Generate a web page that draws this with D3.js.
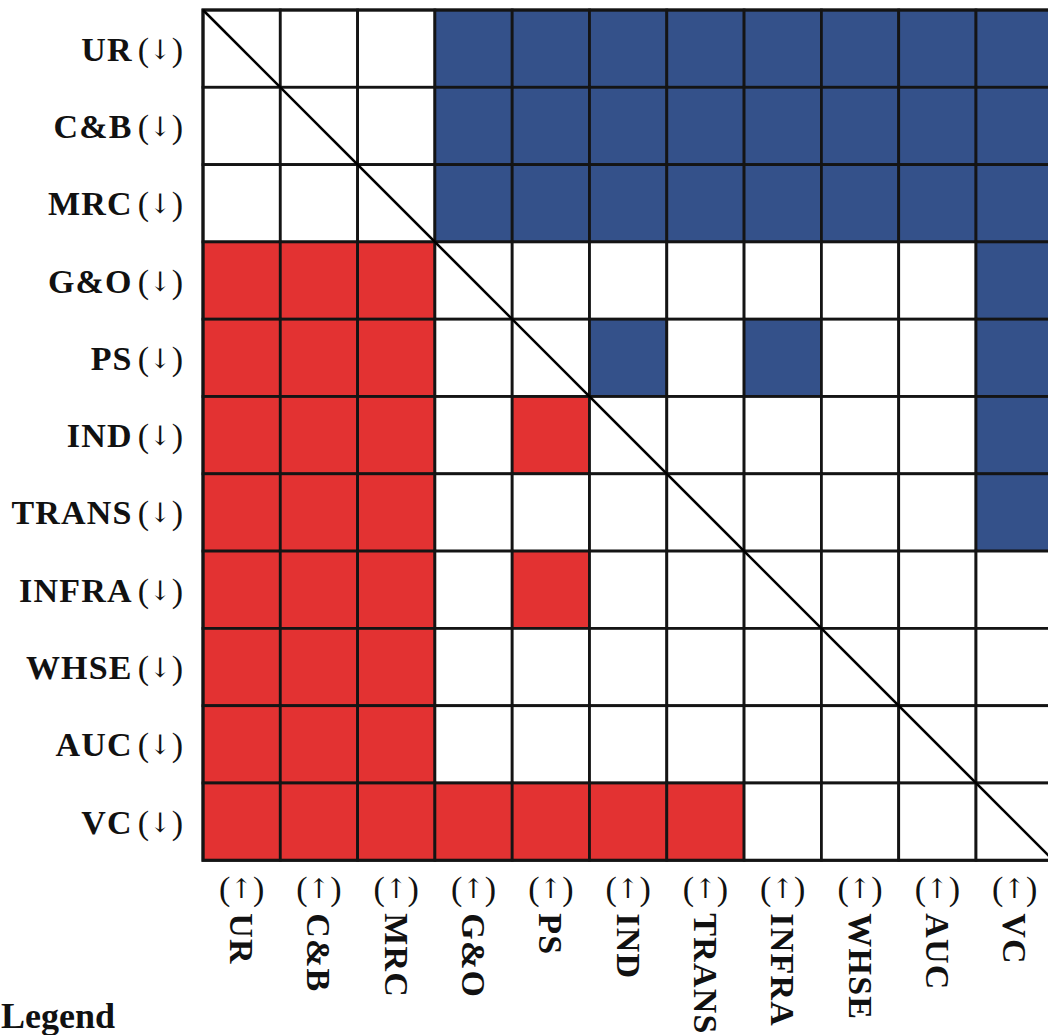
<!DOCTYPE html>
<meta charset="utf-8">
<style>
  body { margin: 0; background: #fff; }
  svg { display: block; }
</style>
<script src="https://d3js.org/d3.v7.min.js"></script>
<div id="my_dataviz"></div>
<script>
// variable codes, same order on both axes
var vars = ["UR", "C&B", "MRC", "G&O", "PS", "IND", "TRANS", "INFRA", "WHSE", "AUC", "VC"]

// significant pairs (row, column) in the upper triangle -> blue,
// the mirrored cell in the lower triangle -> red
var sigRows = ["UR", "UR", "UR", "UR", "UR", "UR", "UR", "UR",
               "C&B", "C&B", "C&B", "C&B", "C&B", "C&B", "C&B", "C&B",
               "MRC", "MRC", "MRC", "MRC", "MRC", "MRC", "MRC", "MRC",
               "G&O", "PS", "PS", "PS", "IND", "TRANS"]
var sigCols = ["G&O", "PS", "IND", "TRANS", "INFRA", "WHSE", "AUC", "VC",
               "G&O", "PS", "IND", "TRANS", "INFRA", "WHSE", "AUC", "VC",
               "G&O", "PS", "IND", "TRANS", "INFRA", "WHSE", "AUC", "VC",
               "VC", "IND", "INFRA", "VC", "VC", "VC"]

var width = 1048
var height = 1035
var gridLeft = 203, gridTop = 10, cell = 77.3

var svg = d3.select("#my_dataviz")
  .append("svg")
  .attr("width", width)
  .attr("height", height)

var x = d3.scaleBand().domain(vars).range([gridLeft, gridLeft + cell * vars.length])
var y = d3.scaleBand().domain(vars).range([gridTop, gridTop + cell * vars.length])

// lookup of significant cells
var sig = {}
sigRows.forEach(function(r, i) {
  sig[r + "|" + sigCols[i]] = "upper"
  sig[sigCols[i] + "|" + r] = "lower"
})

var cells = []
vars.forEach(function(r) {
  vars.forEach(function(c) {
    cells.push({ row: r, col: c, kind: sig[r + "|" + c] })
  })
})

var fill = { upper: "#34518a", lower: "#e33232" }

svg.selectAll("rect.cell")
  .data(cells)
  .enter()
  .append("rect")
  .attr("class", "cell")
  .attr("x", function(d) { return x(d.col) })
  .attr("y", function(d) { return y(d.row) })
  .attr("width", x.bandwidth())
  .attr("height", y.bandwidth())
  .attr("fill", function(d) { return d.kind ? fill[d.kind] : "#fff" })
  .attr("stroke", "#141414")
  .attr("stroke-width", 2.8)

// outer border
svg.append("rect")
  .attr("x", x.range()[0])
  .attr("y", y.range()[0])
  .attr("width", x.range()[1] - x.range()[0])
  .attr("height", y.range()[1] - y.range()[0])
  .attr("fill", "none")
  .attr("stroke", "#141414")
  .attr("stroke-width", 3)

// diagonal
svg.append("line")
  .attr("x1", x.range()[0]).attr("y1", y.range()[0])
  .attr("x2", x.range()[1]).attr("y2", y.range()[1])
  .attr("stroke", "#000")
  .attr("stroke-width", 2.6)

var font = "'Liberation Serif', 'Times New Roman', serif"
var arrowFont = "'DejaVu Serif', serif"

// row labels
var rowLab = svg.selectAll("text.row")
  .data(vars)
  .enter()
  .append("text")
  .attr("class", "row")
  .attr("x", gridLeft - 20)
  .attr("y", function(d) { return y(d) + y.bandwidth() / 2 })
  .attr("text-anchor", "end")
  .attr("dominant-baseline", "central")
  .style("font-family", font)
  .style("font-size", "34px")
  .style("fill", "#111")
rowLab.append("tspan")
  .style("font-weight", "bold")
  .style("letter-spacing", "1.2px")
  .text(function(d) { return d })
rowLab.append("tspan").attr("dx", 5).text("(")
rowLab.append("tspan").style("font-family", arrowFont).style("font-size", "27px").text("↓")
rowLab.append("tspan").text(")")

// column labels: upright arrow then rotated name
var bottom = y.range()[1]
var arrows = svg.selectAll("text.arrow")
  .data(vars)
  .enter()
  .append("text")
  .attr("class", "arrow")
  .attr("x", function(d) { return x(d) + x.bandwidth() / 2 })
  .attr("y", bottom + 28)
  .attr("text-anchor", "middle")
  .attr("dominant-baseline", "central")
  .style("font-family", font)
  .style("font-size", "34px")
  .style("fill", "#111")
arrows.append("tspan").text("(")
arrows.append("tspan").style("font-family", arrowFont).style("font-size", "27px").text("↑")
arrows.append("tspan").text(")")

svg.selectAll("text.col")
  .data(vars)
  .enter()
  .append("text")
  .attr("class", "col")
  .attr("transform", function(d) {
    return "translate(" + (x(d) + x.bandwidth() / 2) + "," + (bottom + 53) + ") rotate(90)"
  })
  .attr("text-anchor", "start")
  .attr("dominant-baseline", "central")
  .style("font-family", font)
  .style("font-size", "34px")
  .style("font-weight", "bold")
  .style("letter-spacing", "1.2px")
  .style("fill", "#111")
  .text(function(d) { return d })

svg.append("text")
  .attr("x", 1)
  .attr("y", 1028)
  .style("font-family", font)
  .style("font-size", "36px")
  .style("font-weight", "bold")
  .style("fill", "#111")
  .text("Legend")
</script>
